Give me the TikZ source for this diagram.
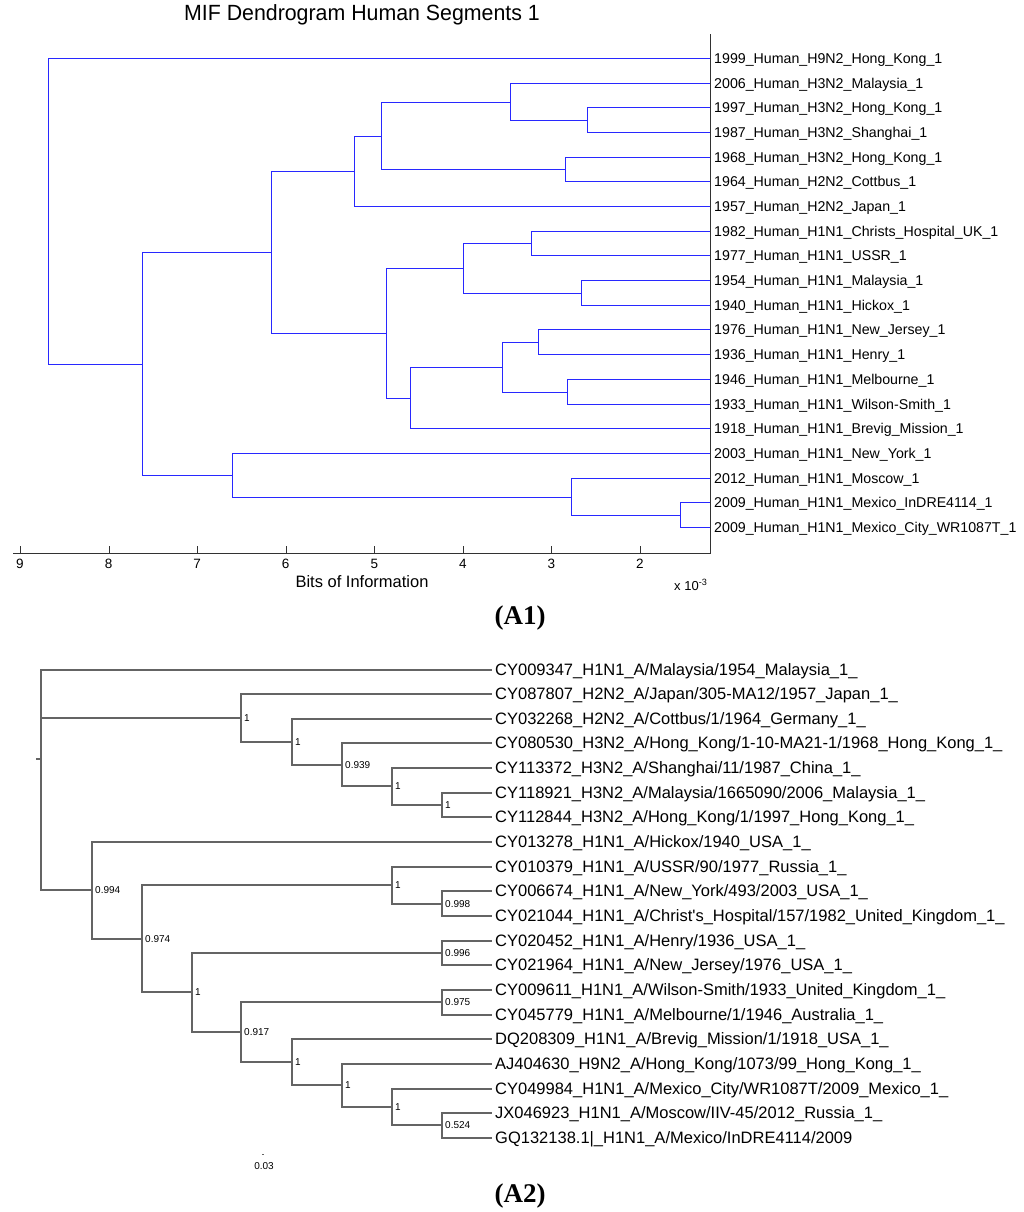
\documentclass[tikz,border=0pt]{standalone}
\usepackage{fontspec}
\setmainfont{Liberation Sans}
\newfontfamily\serifbold{Liberation Serif}
\definecolor{dblue}{RGB}{40,40,255}
\definecolor{tgrey}{RGB}{100,100,100}
\definecolor{axgrey}{RGB}{50,50,50}
\begin{document}
\begin{tikzpicture}[x=1pt,y=-1pt,
  blu/.style={draw=dblue,line width=1.4pt},
  gry/.style={draw=tgrey,line width=1.5pt},
  axisline/.style={draw=axgrey,line width=1pt},
  lab1/.style={anchor=west,inner sep=0pt,font=\fontsize{14.2}{16}\selectfont,text height=10.2pt,text depth=0pt},
  lab2/.style={anchor=west,inner sep=0pt,font=\fontsize{16.5}{18}\selectfont,text height=11.8pt,text depth=0pt},
  bootlab/.style={anchor=west,inner sep=0pt,font=\fontsize{10}{12}\selectfont,text height=7.2pt,text depth=0pt},
  ticklab/.style={inner sep=0pt,font=\fontsize{13.5}{15}\selectfont},
  panellab/.style={inner sep=0pt,font=\fontsize{27}{30}\serifbold\bfseries}]
\useasboundingbox (0,0) rectangle (1024,1212);

% ---------------- A1 ----------------
\node[inner sep=0pt,font=\fontsize{22}{24}\selectfont,xscale=0.97] (title) at (362,15) {MIF Dendrogram Human Segments 1};

\foreach \t [count=\i from 0] in {
 1999\_Human\_H9N2\_Hong\_Kong\_1,
 2006\_Human\_H3N2\_Malaysia\_1,
 1997\_Human\_H3N2\_Hong\_Kong\_1,
 1987\_Human\_H3N2\_Shanghai\_1,
 1968\_Human\_H3N2\_Hong\_Kong\_1,
 1964\_Human\_H2N2\_Cottbus\_1,
 1957\_Human\_H2N2\_Japan\_1,
 1982\_Human\_H1N1\_Christs\_Hospital\_UK\_1,
 1977\_Human\_H1N1\_USSR\_1,
 1954\_Human\_H1N1\_Malaysia\_1,
 1940\_Human\_H1N1\_Hickox\_1,
 1976\_Human\_H1N1\_New\_Jersey\_1,
 1936\_Human\_H1N1\_Henry\_1,
 1946\_Human\_H1N1\_Melbourne\_1,
 1933\_Human\_H1N1\_Wilson-Smith\_1,
 1918\_Human\_H1N1\_Brevig\_Mission\_1,
 2003\_Human\_H1N1\_New\_York\_1,
 2012\_Human\_H1N1\_Moscow\_1,
 2009\_Human\_H1N1\_Mexico\_InDRE4114\_1,
 2009\_Human\_H1N1\_Mexico\_City\_WR1087T\_1}
{
 \coordinate (p\i) at (710.5,{round(58+24.68*\i)+0.5});
 \node[lab1] (pt\i) at (714,{round(58+24.68*\i)+0.5}) {\t};
}

\coordinate (a587) at (587.5,120.5);
\coordinate (a510) at (510.5,102.5);
\coordinate (a565) at (565.5,169.5);
\coordinate (a381) at (381.5,136.5);
\coordinate (a354) at (354.5,171.5);
\coordinate (a531) at (531.5,243.5);
\coordinate (a581) at (581.5,293.5);
\coordinate (a463) at (463.5,268.5);
\coordinate (a538) at (538.5,342.5);
\coordinate (a567) at (567.5,392.5);
\coordinate (a502) at (502.5,367.5);
\coordinate (a410) at (410.5,398.5);
\coordinate (a386) at (386.5,333.5);
\coordinate (a271) at (271.5,252.5);
\coordinate (a680) at (680.5,515.5);
\coordinate (a571) at (571.5,497.5);
\coordinate (a232) at (232.5,475.5);
\coordinate (a142) at (142.5,364.5);
\coordinate (a48) at (48.5,211.5);

\foreach \u/\v in {a48/p0,a48/a142,a142/a271,a142/a232,a271/a354,a271/a386,
  a354/a381,a354/p6,a381/a510,a381/a565,a510/p1,a510/a587,a587/p2,a587/p3,
  a565/p4,a565/p5,a386/a463,a386/a410,a463/a531,a463/a581,a531/p7,a531/p8,
  a581/p9,a581/p10,a410/a502,a410/p15,a502/a538,a502/a567,a538/p11,a538/p12,
  a567/p13,a567/p14,a232/p16,a232/a571,a571/p17,a571/a680,a680/p18,a680/p19}
  \draw[blu] (\u) |- (\v);

% axes
\coordinate (axL) at (13,553.5);
\coordinate (axR) at (710.5,553.5);
\coordinate (axT) at (710.5,34);
\draw[axisline] (axL) -- (axR) -- (axT);
\foreach \v in {2,...,9}{
  \coordinate (tk\v) at ({round(20+(9-\v)*88.57)+0.5},553.5);
  \coordinate (tkt\v) at ({round(20+(9-\v)*88.57)+0.5},546);
  \draw[axisline] (tk\v) -- (tkt\v);
  \node[ticklab] (tl\v) at ({20+(9-\v)*88.57},564) {\v};
}
\node[inner sep=0pt,font=\fontsize{16.5}{18}\selectfont] (xlab) at (362,582) {Bits of Information};
\node[inner sep=0pt,anchor=base west,font=\fontsize{13}{15}\selectfont] (xexp) at (674,590) {x 10\textsuperscript{-3}};
\node[panellab] (A1) at (520,618) {(A1)};

% ---------------- A2 ----------------
\foreach \t [count=\i from 0] in {
 CY009347\_H1N1\_A/Malaysia/1954\_Malaysia\_1\_,
 CY087807\_H2N2\_A/Japan/305-MA12/1957\_Japan\_1\_,
 CY032268\_H2N2\_A/Cottbus/1/1964\_Germany\_1\_,
 CY080530\_H3N2\_A/Hong\_Kong/1-10-MA21-1/1968\_Hong\_Kong\_1\_,
 CY113372\_H3N2\_A/Shanghai/11/1987\_China\_1\_,
 CY118921\_H3N2\_A/Malaysia/1665090/2006\_Malaysia\_1\_,
 CY112844\_H3N2\_A/Hong\_Kong/1/1997\_Hong\_Kong\_1\_,
 CY013278\_H1N1\_A/Hickox/1940\_USA\_1\_,
 CY010379\_H1N1\_A/USSR/90/1977\_Russia\_1\_,
 CY006674\_H1N1\_A/New\_York/493/2003\_USA\_1\_,
 CY021044\_H1N1\_A/Christ\textquotesingle s\_Hospital/157/1982\_United\_Kingdom\_1\_,
 CY020452\_H1N1\_A/Henry/1936\_USA\_1\_,
 CY021964\_H1N1\_A/New\_Jersey/1976\_USA\_1\_,
 CY009611\_H1N1\_A/Wilson-Smith/1933\_United\_Kingdom\_1\_,
 CY045779\_H1N1\_A/Melbourne/1/1946\_Australia\_1\_,
 DQ208309\_H1N1\_A/Brevig\_Mission/1/1918\_USA\_1\_,
 AJ404630\_H9N2\_A/Hong\_Kong/1073/99\_Hong\_Kong\_1\_,
 CY049984\_H1N1\_A/Mexico\_City/WR1087T/2009\_Mexico\_1\_,
 JX046923\_H1N1\_A/Moscow/IIV-45/2012\_Russia\_1\_,
 GQ132138.1|\_H1N1\_A/Mexico/InDRE4114/2009}
{
 \coordinate (q\i) at (492,{round(669.5+24.65*\i)});
 \node[lab2] (qt\i) at (495,{round(669.5+24.65*\i)}) {\t};
}

\coordinate (b41) at (41,759);
\coordinate (rtick) at (36,759);
\coordinate (b442a) at (442,805);
\coordinate (b392a) at (392,786);
\coordinate (b342a) at (342,765);
\coordinate (b292a) at (292,742);
\coordinate (b241a) at (241,718);
\coordinate (b442b) at (442,904);
\coordinate (b392b) at (392,885);
\coordinate (b442c) at (442,953);
\coordinate (b442d) at (442,1002);
\coordinate (b442e) at (442,1125);
\coordinate (b392c) at (392,1107);
\coordinate (b342b) at (342,1085);
\coordinate (b292b) at (292,1062);
\coordinate (b241b) at (241,1032);
\coordinate (b192) at (192,992);
\coordinate (b142) at (142,939);
\coordinate (b92) at (92,890);

\draw[gry] (b41) -- (rtick);
\foreach \u/\v in {b41/q0,b41/b241a,b41/b92,b241a/q1,b241a/b292a,b292a/q2,b292a/b342a,
  b342a/q3,b342a/b392a,b392a/q4,b392a/b442a,b442a/q5,b442a/q6,b92/q7,b92/b142,
  b142/b392b,b142/b192,b392b/q8,b392b/b442b,b442b/q9,b442b/q10,b192/b442c,b192/b241b,
  b442c/q11,b442c/q12,b241b/b442d,b241b/b292b,b442d/q13,b442d/q14,b292b/q15,b292b/b342b,
  b342b/q16,b342b/b392c,b392c/q17,b392c/b442e,b442e/q18,b442e/q19}
  \draw[gry] (\u) |- (\v);

\foreach \n/\s in {b241a/1,b292a/1,b342a/0.939,b392a/1,b442a/1,b92/0.994,b142/0.974,
  b392b/1,b442b/0.998,b192/1,b442c/0.996,b241b/0.917,b442d/0.975,b292b/1,b342b/1,
  b392c/1,b442e/0.524}
  \node[bootlab] (bs\n) at ([xshift=3pt]\n) {\s};

% scale bar
\coordinate (sbA) at (262,1154);
\coordinate (sbB) at (264,1154);
\draw[gry,line width=0.8pt] (sbA) -- (sbB);
\node[inner sep=0pt,font=\fontsize{10}{12}\selectfont] (sblab) at (264,1166) {0.03};

\node[panellab] (A2) at (520,1196) {(A2)};
\end{tikzpicture}
\end{document}
